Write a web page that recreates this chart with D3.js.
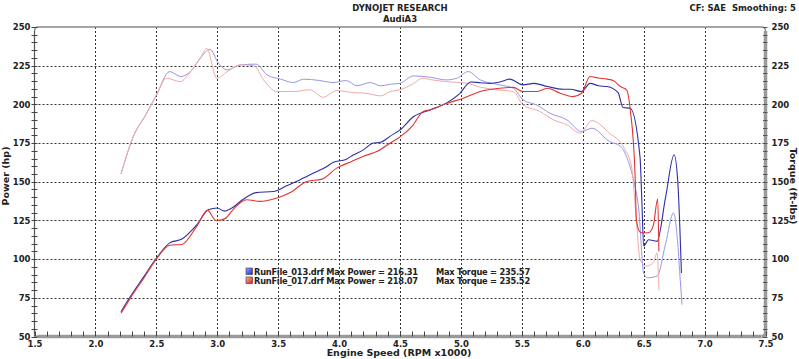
<!DOCTYPE html>
<html><head><meta charset="utf-8">
<script src="https://cdn.jsdelivr.net/npm/d3@7"></script>
<style>
html,body{margin:0;padding:0;background:#fff;}
svg{display:block;}
text{font-family:Tahoma,"DejaVu Sans",sans-serif;font-weight:bold;fill:#222;}
</style></head>
<body>
<script>
// ---------- data ----------
const titleMain = "DYNOJET RESEARCH";
const titleSub = "AudiA3";
const cornerNote = "CF: SAE\u00a0\u00a0Smoothing: 5";
const xTitle = "Engine Speed (RPM x1000)";
const yTitleLeft = "Power (hp)";
const yTitleRight = "Torque (ft-lbs)";
const xTickLabels = ["1.5","2.0","2.5","3.0","3.5","4.0","4.5","5.0","5.5","6.0","6.5","7.0","7.5"];
const yTickLabels = [50,75,100,125,150,175,200,225,250];

const bluePowerRpm = [2.21,2.28,2.40,2.50,2.61,2.71,2.83,2.93,3.00,3.06,3.12,3.21,3.32,3.46,3.57,3.68,3.79,3.90,3.95,4.06,4.12,4.20,4.28,4.34,4.42,4.50,4.61,4.75,4.88,4.99,5.08,5.16,5.24,5.32,5.40,5.51,5.60,5.71,5.84,5.90,5.99,6.06,6.13,6.20,6.29,6.33,6.39,6.47,6.485,6.50,6.54,6.61,6.68,6.75,6.78,6.81];
const bluePowerHp  = [66,75,89,100.5,110.5,113,122,132,133,131,133,138.5,143,143.7,147.4,151.3,155.6,159.9,162.5,164.6,167.4,170.6,175,175.5,179.5,183.5,192,196.5,200.8,207,214.5,214,213.6,214.5,216.3,212.6,213.6,211.5,209.8,209.8,208.3,213.6,212,211.5,207.6,198,197.5,166,138,108.5,112.5,111.5,140,167.4,150,91];

const redPowerRpm = [2.21,2.28,2.40,2.50,2.61,2.71,2.83,2.92,2.99,3.06,3.13,3.24,3.35,3.49,3.60,3.735,3.86,3.98,4.10,4.20,4.31,4.42,4.50,4.60,4.69,4.75,4.88,5.02,5.16,5.32,5.43,5.51,5.62,5.71,5.815,5.92,5.99,6.06,6.13,6.20,6.25,6.31,6.36,6.39,6.43,6.44,6.47,6.50,6.54,6.58,6.615,6.625];
const redPowerHp  = [65,74,88,100,109,109.5,121,131.5,125,126,132,138.4,137.3,139.5,143,150.2,151.7,158.8,163,166.5,169.5,175,179,186,195.4,196.5,200.5,204,208.3,210.4,211,208.3,208.3,210.4,207.2,205,207.2,218,217,216.3,215.4,211.5,209.4,196.5,153.4,125.5,117.5,116.9,117,122,139,105];

const blueTorqueRpm = [2.21,2.31,2.42,2.50,2.61,2.70,2.78,2.86,2.94,3.01,3.08,3.19,3.32,3.41,3.52,3.625,3.71,3.84,3.95,4.06,4.145,4.255,4.34,4.42,4.50,4.61,4.75,4.88,4.97,5.06,5.16,5.32,5.43,5.51,5.62,5.73,5.87,5.99,6.075,6.22,6.31,6.375,6.42,6.46,6.50,6.53,6.61,6.68,6.745,6.78,6.80,6.815];
const blueTorqueFtlb = [155,179,194.3,206,221.2,218,221.2,229.8,235.6,226.6,222.3,225.5,226,219,216.3,214.1,216.3,215.4,214.1,215.4,212,214.1,212,213,213.6,218.4,217.5,215.8,217,221.2,215.8,212.6,210.4,202.9,199.7,194.3,190,182.5,184.6,176,172.8,163,150,131.9,91,88,89,110,129.8,110,86.8,70.6];

const redTorqueRpm = [2.21,2.31,2.42,2.50,2.585,2.695,2.78,2.86,2.914,2.996,3.08,3.19,3.30,3.38,3.49,3.625,3.76,3.87,3.98,4.12,4.22,4.34,4.42,4.50,4.60,4.69,4.75,4.88,5.05,5.16,5.30,5.43,5.51,5.65,5.76,5.87,5.98,6.075,6.22,6.34,6.40,6.44,6.47,6.52,6.58,6.61,6.625];
const redTorqueFtlb = [155,179,194,206,216.9,214.7,221,229.8,236.2,216.9,221,225.5,225,215.8,208.3,208.3,209.4,204.6,208.9,207.6,207.2,205.5,208.3,209.4,213,216.9,216,214.7,213.6,211.1,209.4,208.3,199.7,195.4,190,186.8,181.4,189.5,181.4,171.7,159.9,125.5,99.7,95.4,98,104,80];

const legendNames = ["RunFile_013.drf","RunFile_017.drf"];
const legendMaxPower = ["216.31","218.07"];
const legendMaxTorque = ["235.57","235.52"];

// ---------- chart ----------
const W = 799, H = 359;
const svg = d3.select("body").append("svg").attr("width", W).attr("height", H);

const x = d3.scaleLinear().domain([1.5, 7.5]).range([34.5, 765.5]);
const y = d3.scaleLinear().domain([50, 250]).range([336.5, 27]);

// titles
svg.append("text").attr("x", 400).attr("y", 11).attr("text-anchor", "middle").attr("font-size", 8.5).text(titleMain);
svg.append("text").attr("x", 400).attr("y", 22).attr("text-anchor", "middle").attr("font-size", 8.5).text(titleSub);
svg.append("text").attr("x", 796).attr("y", 11).attr("text-anchor", "end").attr("font-size", 8.5).text(cornerNote);

// grid
const g = svg.append("g");
g.selectAll("line.vg").data(d3.range(2.0, 7.01, 0.5)).join("line")
  .attr("x1", d => Math.round(x(d)) + 0.5).attr("x2", d => Math.round(x(d)) + 0.5)
  .attr("y1", y(250)).attr("y2", y(50))
  .attr("stroke", "#333").attr("stroke-width", 1).attr("stroke-dasharray", "2,2");
g.selectAll("line.hg").data(d3.range(75, 226, 25)).join("line")
  .attr("x1", x(1.5)).attr("x2", x(7.5))
  .attr("y1", d => Math.round(y(d)) + 0.5).attr("y2", d => Math.round(y(d)) + 0.5)
  .attr("stroke", "#333").attr("stroke-width", 1).attr("stroke-dasharray", "2,2");

// frame: top line with rounded corners, left line
const x0 = x(1.5), x1 = x(7.5), yt = y(250), yb = y(50);
svg.append("path")
  .attr("d", `M${x0},${yb} L${x0},${yt + 4} Q${x0},${yt} ${x0 + 4},${yt} L${x1 - 4},${yt} Q${x1},${yt} ${x1},${yt + 4}`)
  .attr("fill", "none").attr("stroke", "#888").attr("stroke-width", 1.3);
svg.append("line").attr("x1", x0).attr("x2", x0).attr("y1", yt + 4).attr("y2", yb)
  .attr("stroke", "#555").attr("stroke-width", 1);
// right thick bar
svg.append("path")
  .attr("d", `M${x1},${yt + 4} L${x1},${yb - 3} Q${x1},${yb} ${x1 - 4},${yb}`)
  .attr("fill", "none").attr("stroke", "#9a9a9a").attr("stroke-width", 3.5);
// bottom thick bar
svg.append("path")
  .attr("d", `M${x0 + 3},${yb} L${x1 - 4},${yb}`)
  .attr("fill", "none").attr("stroke", "#9a9a9a").attr("stroke-width", 3.5);
svg.append("path")
  .attr("d", `M${x0},${yb - 3} Q${x0},${yb} ${x0 + 4},${yb}`)
  .attr("fill", "none").attr("stroke", "#777").attr("stroke-width", 1.2);

// minor ticks
const yMinor = d3.range(50, 251, 5);
svg.selectAll("line.lt").data(yMinor).join("line")
  .attr("x1", x0 - 3).attr("x2", x0 + 3)
  .attr("y1", d => Math.round(y(d)) + 0.5).attr("y2", d => Math.round(y(d)) + 0.5)
  .attr("stroke", "#444").attr("stroke-width", 1);
svg.selectAll("line.rt").data(yMinor).join("line")
  .attr("x1", x1 - 2.5).attr("x2", x1 + 2)
  .attr("y1", d => Math.round(y(d)) + 0.5).attr("y2", d => Math.round(y(d)) + 0.5)
  .attr("stroke", "#555").attr("stroke-width", 1);
const xMinor = d3.range(15, 76, 1).map(d => d / 10);
svg.selectAll("line.bt").data(xMinor).join("line")
  .attr("x1", d => Math.round(x(d)) + 0.5).attr("x2", d => Math.round(x(d)) + 0.5)
  .attr("y1", yb - 5).attr("y2", yb)
  .attr("stroke", "#444").attr("stroke-width", 1);

// axes labels via d3 axes
const axL = svg.append("g").attr("transform", `translate(${x0 - 3},0)`)
  .call(d3.axisLeft(y).tickValues(yTickLabels).tickSize(0).tickPadding(1).tickFormat(d3.format("d")));
const axR = svg.append("g").attr("transform", `translate(${x1 + 4},0)`)
  .call(d3.axisRight(y).tickValues(yTickLabels).tickSize(0).tickPadding(2).tickFormat(d3.format("d")));
const axB = svg.append("g").attr("transform", `translate(0,${yb + 2})`)
  .call(d3.axisBottom(x).tickValues(xTickLabels.map(Number)).tickSize(0).tickPadding(2).tickFormat((d, i) => xTickLabels[i]));
[axL, axR, axB].forEach(a => {
  a.select(".domain").remove();
  a.selectAll("text").attr("font-size", 8.5).attr("font-family", 'Tahoma,"DejaVu Sans",sans-serif').attr("fill", "#222");
});

// axis titles
svg.append("text").attr("transform", `translate(9,176) rotate(-90)`).attr("text-anchor", "middle").attr("font-size", 9.5).text(yTitleLeft);
svg.append("text").attr("transform", `translate(790,186) rotate(90)`).attr("text-anchor", "middle").attr("font-size", 9.5).text(yTitleRight);
svg.append("text").attr("x", 399).attr("y", 356).attr("text-anchor", "middle").attr("font-size", 9.5).text(xTitle);

// curves
const line = d3.line().x(d => x(d[0])).y(d => y(d[1])).curve(d3.curveMonotoneX);
const series = [
  {rpm: blueTorqueRpm, v: blueTorqueFtlb, c: "#9696e8", w: 1},
  {rpm: redTorqueRpm, v: redTorqueFtlb, c: "#f2a8a8", w: 1},
  {rpm: bluePowerRpm, v: bluePowerHp, c: "#2e2eaa", w: 1.1},
  {rpm: redPowerRpm, v: redPowerHp, c: "#e23434", w: 1.1}
];
series.forEach(s => {
  svg.append("path").datum(s.rpm.map((r, i) => [r, s.v[i]]))
    .attr("d", line).attr("fill", "none").attr("stroke", s.c).attr("stroke-width", s.w)
    .attr("stroke-linejoin", "round");
});

// legend
const defs = svg.append("defs");
[["gb", "#9aa6ff", "#1a2ad0"], ["gr", "#ffb0a8", "#d82020"]].forEach(([id, c1, c2]) => {
  const lg = defs.append("linearGradient").attr("id", id).attr("x1", 0).attr("y1", 0).attr("x2", 1).attr("y2", 1);
  lg.append("stop").attr("offset", 0).attr("stop-color", c1);
  lg.append("stop").attr("offset", 1).attr("stop-color", c2);
});
const legendFill = ["url(#gb)", "url(#gr)"];
const leg = svg.append("g");
legendNames.forEach((n, i) => {
  const yy = 268 + i * 9;
  leg.append("rect").attr("x", 246).attr("y", yy).attr("width", 6.5).attr("height", 6.5)
    .attr("fill", legendFill[i]).attr("stroke", "#334").attr("stroke-width", 0.6);
  leg.append("text").attr("x", 254).attr("y", yy + 7).attr("font-size", 8.3).attr("letter-spacing", "-0.25px")
    .text(`${n} Max Power = ${legendMaxPower[i]}`);
  leg.append("text").attr("x", 436).attr("y", yy + 7).attr("font-size", 8.3).attr("letter-spacing", "-0.25px")
    .text(`Max Torque = ${legendMaxTorque[i]}`);
});
</script>
</body></html>
